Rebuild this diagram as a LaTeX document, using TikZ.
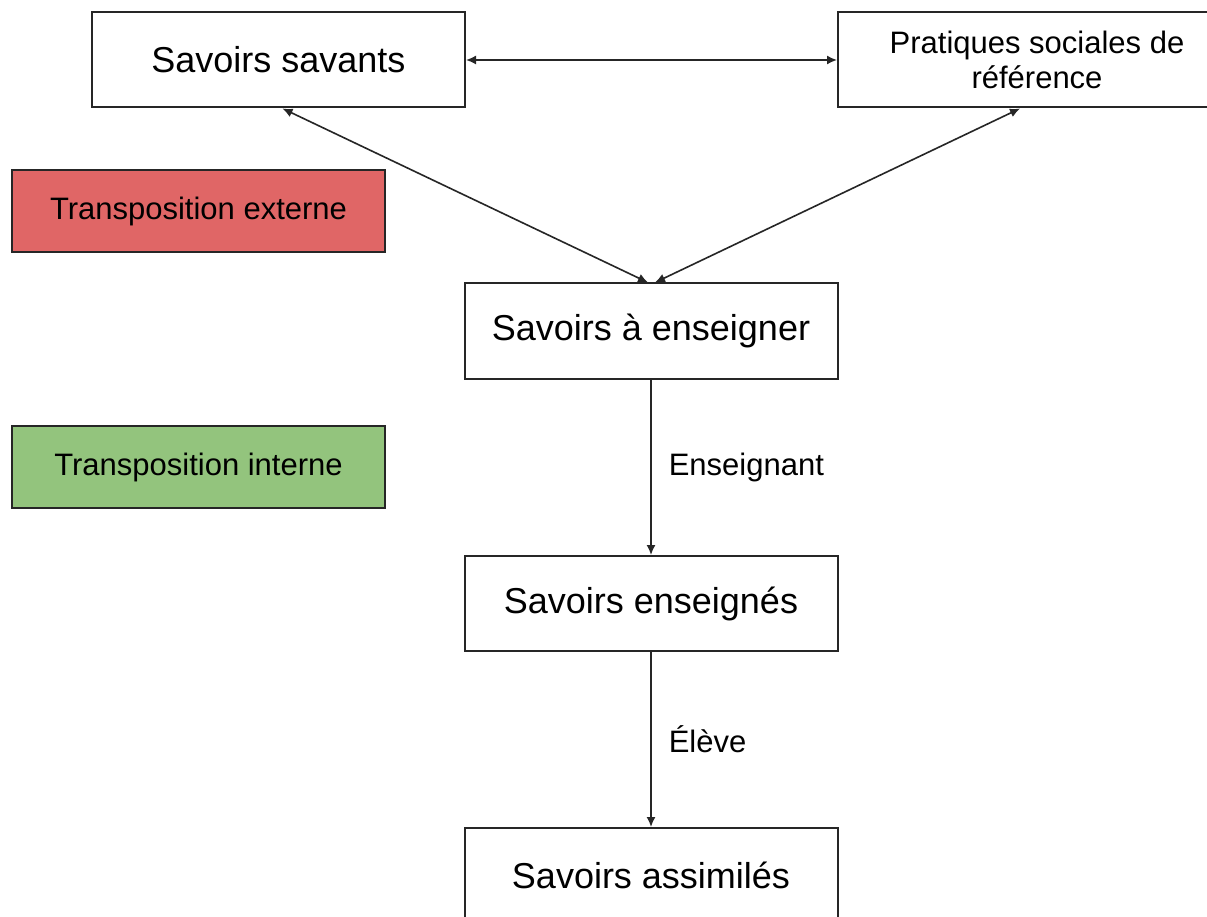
\documentclass[tikz,border=0pt]{standalone}
\usepackage{fontspec}
\setmainfont{Liberation Sans}
\usetikzlibrary{arrows.meta}
\definecolor{extred}{HTML}{E06666}
\definecolor{intgreen}{HTML}{93C47D}
\tikzset{
  box/.style={draw=black!85, line width=2pt, rectangle, inner sep=0pt, align=center},
  bigbox/.style={box, fill=white, minimum width=373pt, minimum height=95pt, font=\fontsize{36}{40}\selectfont},
  tagbox/.style={box, minimum width=373pt, minimum height=82pt, font=\fontsize{31}{36}\selectfont},
  conn/.style={draw=black!85, line width=1.6pt, {Latex[length=10pt,width=9pt]}-{Latex[length=10pt,width=9pt]}},
  flow/.style={draw=black!85, line width=1.6pt, -{Latex[length=10pt,width=9pt]}},
  lbl/.style={font=\fontsize{31}{36}\selectfont, inner sep=0pt}
}
\begin{document}
\begin{tikzpicture}[x=1pt,y=-1pt]
\useasboundingbox (0,0) rectangle (1207,917);
\clip (0,0) rectangle (1207,917);
\fill[white] (0,0) rectangle (1207,917);
\node[bigbox] (savants) at (278.5,60) {Savoirs savants};
\node[bigbox, minimum width=398pt, font=\fontsize{31}{35}\selectfont] (pratiques) at (1037,60) {Pratiques sociales de\\référence};
\node[tagbox, fill=extred] (externe) at (198.5,211) {Transposition externe};
\node[bigbox] (enseigner) at (651,331) {Savoirs à enseigner};
\node[tagbox, fill=intgreen] (interne) at (198.5,467) {Transposition interne};
\node[bigbox] (enseignes) at (651,603.5) {Savoirs enseignés};
\node[bigbox] (assimiles) at (651,875.5) {Savoirs assimilés};
\draw[conn] (savants.east) -- (pratiques.west);
\draw[conn] ([xshift=4pt]savants.south) -- ([xshift=-3pt]enseigner.north);
\draw[conn] ([xshift=-17pt]pratiques.south) -- ([xshift=4pt]enseigner.north);
\draw[flow] (enseigner.south) -- node[lbl, right=17pt] {Enseignant} (enseignes.north);
\draw[flow] (enseignes.south) -- node[lbl, right=17pt] {Élève} (assimiles.north);
\end{tikzpicture}
\end{document}
